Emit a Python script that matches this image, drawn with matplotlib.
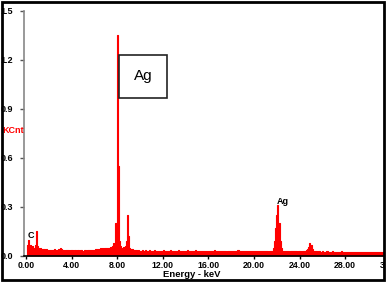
import numpy as np
import matplotlib
matplotlib.use("Agg")
import matplotlib.pyplot as plt
from matplotlib.patches import Rectangle

# EDS spectrum, counts (KCnt) per 0.1 keV channel, 0.0 .. 31.9 keV
counts = [
    0.00, 0.07, 0.10, 0.06, 0.07, 0.05, 0.06, 0.05, 0.07, 0.15,
    0.06, 0.048, 0.043, 0.047, 0.042, 0.040, 0.045, 0.038, 0.042, 0.037,
    0.036, 0.039, 0.034, 0.037, 0.035, 0.040, 0.033, 0.036, 0.038, 0.044,
    0.050, 0.040, 0.035, 0.038, 0.032, 0.036, 0.034, 0.039, 0.033, 0.035,
    0.034, 0.037, 0.032, 0.036, 0.033, 0.035, 0.038, 0.032, 0.034, 0.036,
    0.033, 0.037, 0.035, 0.032, 0.036, 0.034, 0.038, 0.035, 0.037, 0.039,
    0.038, 0.042, 0.040, 0.044, 0.041, 0.046, 0.043, 0.047, 0.045, 0.049,
    0.046, 0.050, 0.048, 0.052, 0.057, 0.054, 0.062, 0.078, 0.068, 0.20,
    1.35, 0.55, 0.09, 0.06, 0.052, 0.050, 0.054, 0.062, 0.09, 0.25,
    0.12, 0.052, 0.044, 0.040, 0.038, 0.036, 0.035, 0.034, 0.033, 0.034,
    0.033, 0.031, 0.035, 0.030, 0.032, 0.034, 0.029, 0.031, 0.036, 0.030,
    0.032, 0.029, 0.031, 0.034, 0.030, 0.033, 0.028, 0.031, 0.030, 0.033,
    0.031, 0.034, 0.029, 0.032, 0.030, 0.028, 0.031, 0.035, 0.029, 0.031,
    0.030, 0.032, 0.029, 0.031, 0.036, 0.030, 0.028, 0.032, 0.030, 0.031,
    0.029, 0.031, 0.034, 0.030, 0.028, 0.032, 0.029, 0.031, 0.030, 0.034,
    0.031, 0.029, 0.032, 0.030, 0.031, 0.028, 0.030, 0.033, 0.029, 0.031,
    0.030, 0.032, 0.028, 0.031, 0.029, 0.034, 0.030, 0.028, 0.031, 0.029,
    0.031, 0.028, 0.030, 0.032, 0.029, 0.031, 0.027, 0.030, 0.033, 0.029,
    0.030, 0.032, 0.029, 0.031, 0.028, 0.030, 0.034, 0.029, 0.031, 0.028,
    0.029, 0.031, 0.028, 0.030, 0.032, 0.029, 0.031, 0.028, 0.030, 0.029,
    0.031, 0.028, 0.030, 0.029, 0.032, 0.028, 0.030, 0.031, 0.028, 0.030,
    0.029, 0.028, 0.030, 0.027, 0.029, 0.031, 0.033, 0.048, 0.09, 0.17,
    0.25, 0.31, 0.20, 0.09, 0.048, 0.033, 0.029, 0.031, 0.028, 0.030,
    0.029, 0.027, 0.030, 0.028, 0.031, 0.029, 0.028, 0.030, 0.027, 0.029,
    0.028, 0.030, 0.027, 0.029, 0.031, 0.033, 0.035, 0.043, 0.058, 0.078,
    0.065, 0.043, 0.033, 0.030, 0.028, 0.029, 0.027, 0.028, 0.026, 0.027,
    0.028, 0.026, 0.027, 0.025, 0.028, 0.026, 0.027, 0.025, 0.026, 0.028,
    0.025, 0.027, 0.026, 0.024, 0.027, 0.025, 0.026, 0.028, 0.025, 0.026,
    0.027, 0.025, 0.026, 0.024, 0.025, 0.027, 0.025, 0.026, 0.024, 0.025,
    0.026, 0.024, 0.025, 0.027, 0.024, 0.025, 0.026, 0.024, 0.025, 0.023,
    0.025, 0.024, 0.026, 0.023, 0.025, 0.024, 0.025, 0.023, 0.024, 0.025,
    0.024, 0.023, 0.025, 0.024, 0.023, 0.025, 0.024, 0.023, 0.024, 0.023,
]
energy = np.arange(len(counts)) * 0.1

xticks = [0, 4, 8, 12, 16, 20, 24, 28, 32]
yticks = [0.0, 0.3, 0.6, 0.9, 1.2, 1.5]

peak_labels = ["C", "Ag"]
peak_pos = [0.4, 22.5]
peak_height = [0.095, 0.305]

plt.rcParams["font.family"] = ["Liberation Sans", "DejaVu Sans"]

fig = plt.figure(figsize=(3.87, 2.82), dpi=100)
ax = fig.add_axes([0.0612, 0.0922, 0.9486, 0.869])

ax.fill_between(energy, counts, step="mid", color="#ff0000", lw=0)
ax.step(energy, counts, where="mid", color="#ff0000", lw=0.8)

ax.set_xlim(-0.2, 32)
ax.set_ylim(0, 1.5)
ax.set_xticks(xticks)
ax.set_xticklabels(["%.2f" % t for t in xticks], fontsize=6.3, fontweight="bold")
ax.set_yticks(yticks)
ax.set_yticklabels(["%.1f" % t for t in yticks], fontsize=6.5, fontweight="bold")
ax.tick_params(axis="y", length=3, width=1, pad=4.5, color="#555555")
ax.tick_params(axis="x", length=2.5, width=1, pad=0.8)

for s in ["top", "right"]:
    ax.spines[s].set_visible(False)
ax.spines["left"].set_color("#888888")
ax.spines["left"].set_linewidth(1.2)
ax.spines["bottom"].set_linewidth(1.2)

for lab, x, y in zip(peak_labels, peak_pos, peak_height):
    ax.text(x, y, lab, fontsize=6.5, fontweight="bold", ha="center", va="bottom")

ax.text(10.25, 1.10, "Ag", fontsize=11, ha="center", va="center",
        bbox=dict(boxstyle="square,pad=0.95", fc="white", ec="#222222", lw=1.2))

fig.text(0.007, 0.539, "KCnt", color="#ff0000", fontsize=6.5, fontweight="bold",
         ha="left", va="center")
fig.text(0.495, 0.026, "Energy - keV", fontsize=6.8, fontweight="bold",
         ha="center", va="center")

# outer frame
fig.patches.append(Rectangle((384.5 / 387, 0), 3 / 387, 1, transform=fig.transFigure,
                             fc="white", ec="none", zorder=9))
fig.patches.append(Rectangle((1.5 / 387, 2.5 / 282), 382 / 387, 278 / 282,
                             transform=fig.transFigure, fill=False, ec="black",
                             lw=2, zorder=10))

fig.savefig("out.png", dpi=100)
